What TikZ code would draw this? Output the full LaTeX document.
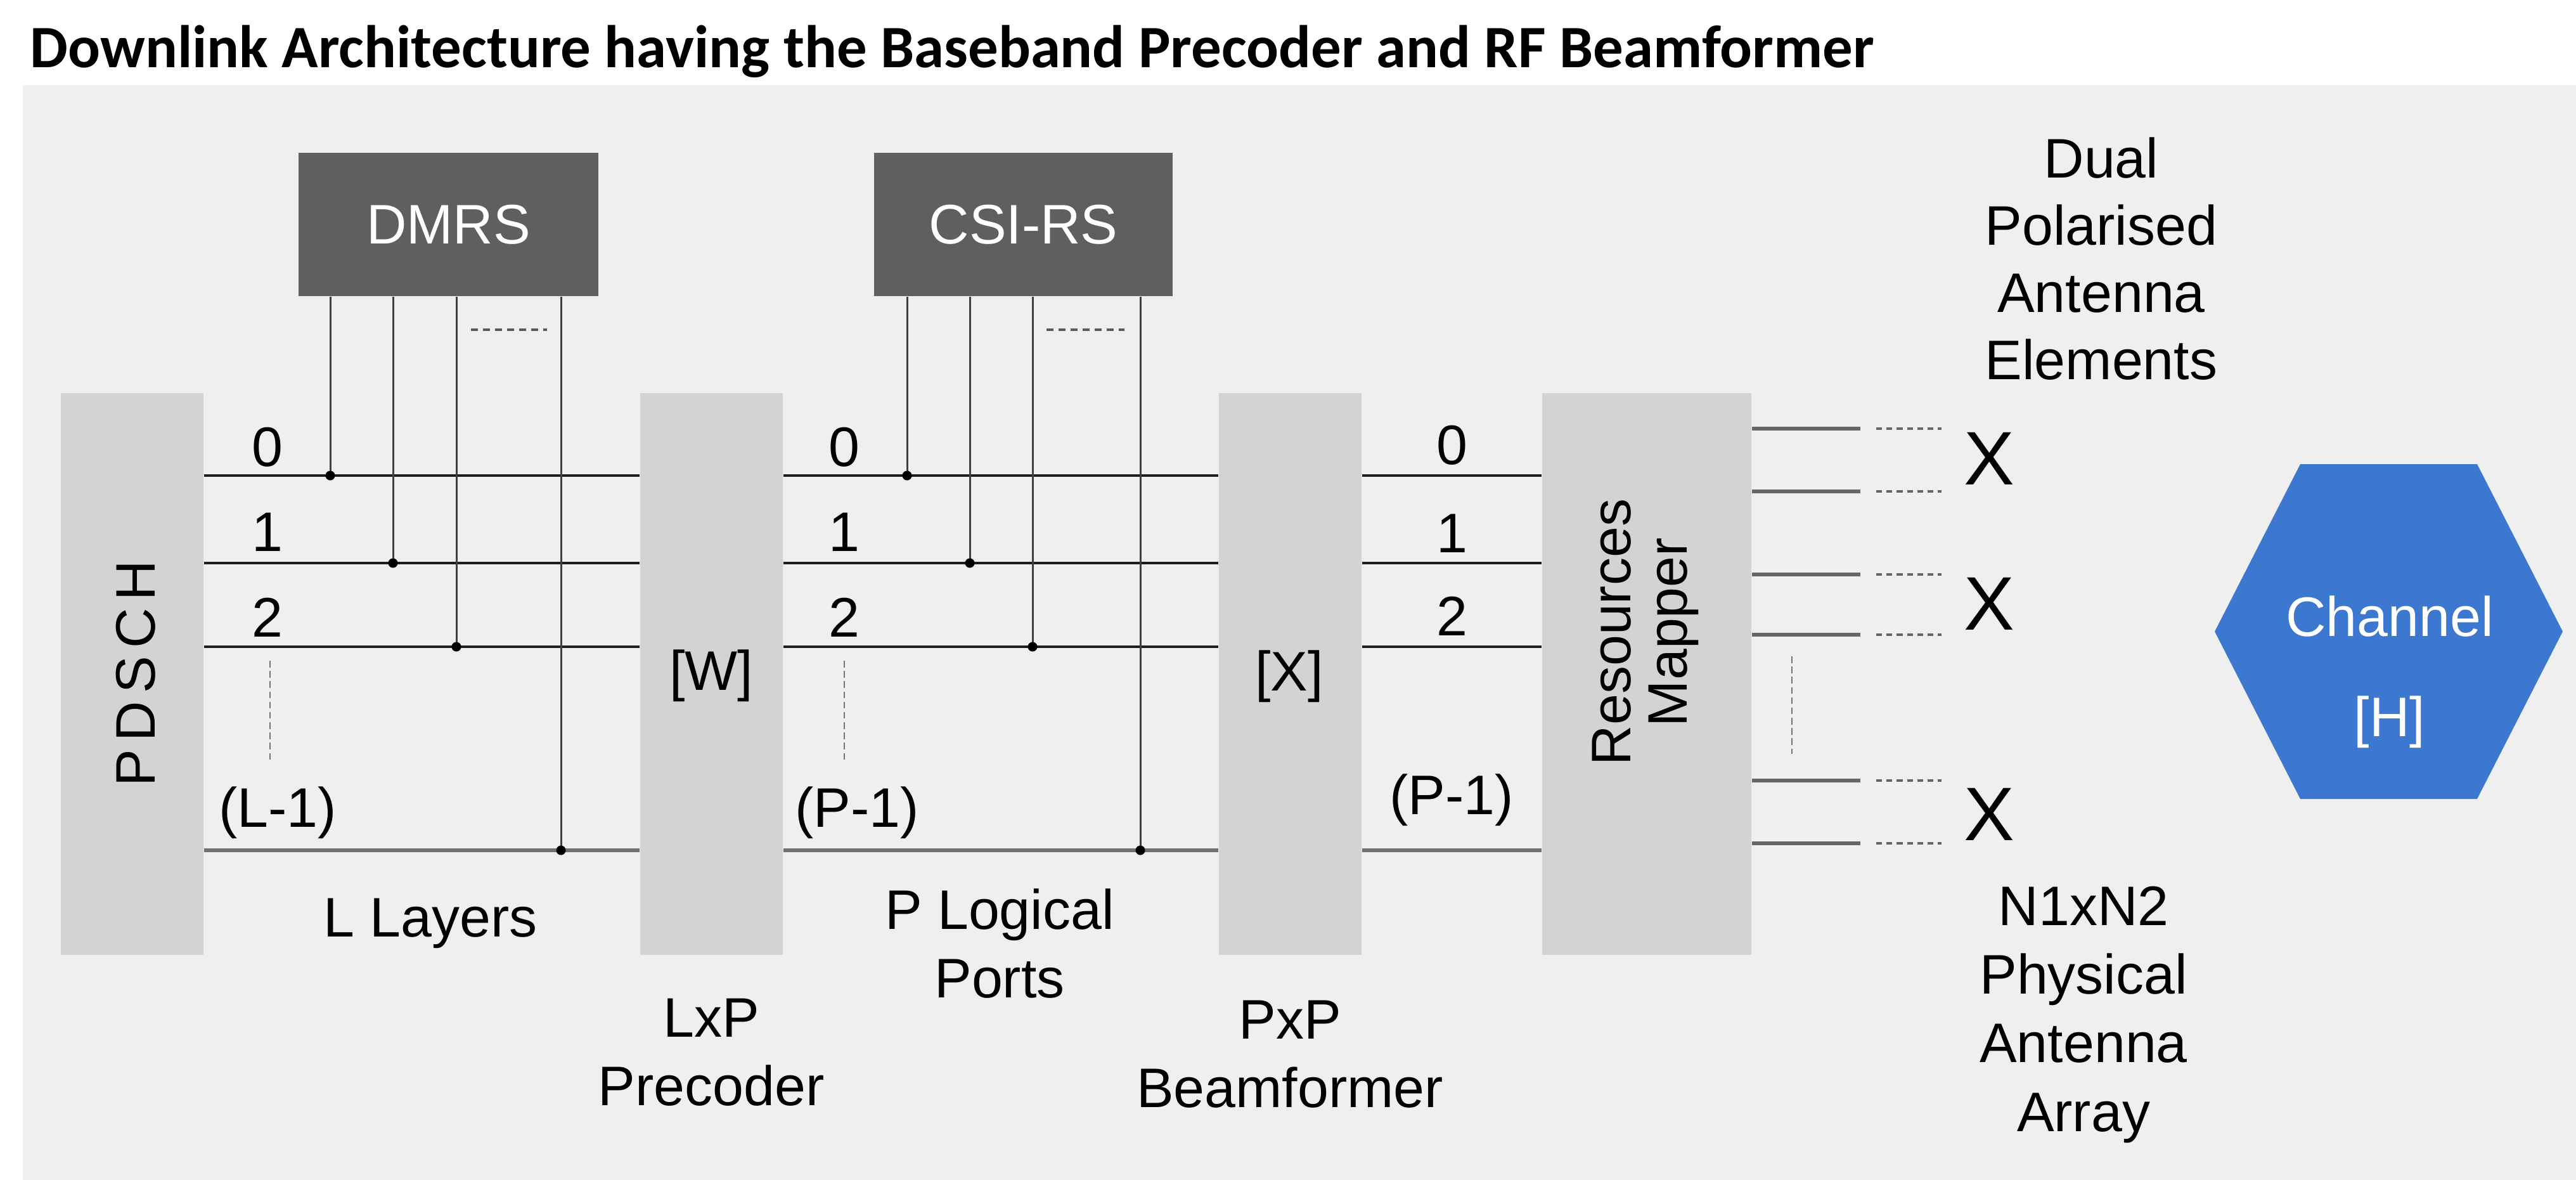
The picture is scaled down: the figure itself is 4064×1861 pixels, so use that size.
\documentclass[tikz,border=0pt]{standalone}
\usepackage{fontspec}
\setmainfont{Liberation Sans}
\newfontfamily\titlefont{Carlito}
\definecolor{bgc}{HTML}{EFEFEF}
\definecolor{blkc}{HTML}{D3D3D3}
\definecolor{rsc}{HTML}{5F5F5F}
\definecolor{chanc}{HTML}{3D78D0}
\definecolor{sigc}{HTML}{1E1E1E}
\definecolor{lastc}{HTML}{707070}
\definecolor{antc}{HTML}{666666}
\begin{document}
\begin{tikzpicture}[x=0.01cm,y=-0.01cm,
  blk/.style={fill=blkc,draw=none,inner sep=0,minimum width=2.25cm,minimum height=8.86cm},
  rsbox/.style={fill=rsc,draw=none,inner sep=0,text=white,minimum height=2.26cm,
    font=\fontsize{25}{30}\selectfont},
  lbl/.style={inner sep=0,align=center,text=black,font=\fontsize{25}{30.7}\selectfont},
  sig/.style={draw=sigc,line width=1.15pt},
  lastsig/.style={draw=lastc,line width=1.7pt},
  vline/.style={draw=sigc!85!white,line width=0.85pt},
  jdot/.style={fill=black},
  hdots/.style={draw=black!65,line width=0.9pt,dash pattern=on 3.2pt off 2.2pt},
  vdots/.style={draw=black!55,line width=0.7pt,dash pattern=on 3pt off 1.6pt},
  ant/.style={draw=antc,line width=1.6pt},
  antdots/.style={draw=antc,line width=1.1pt,dash pattern=on 2.6pt off 2pt},
  xmark/.style={inner sep=0,font=\fontsize{34}{40}\selectfont}
]
\useasboundingbox (0,0) rectangle (4064,1861);
\fill[white] (0,0) rectangle (4064,1861);
\fill[bgc] (36,134) rectangle (4064,1861);

% title
\node[anchor=base west,inner sep=0,font=\titlefont\bfseries\fontsize{27}{30}\selectfont] (title) at (47,107)
  {Downlink Architecture having the Baseband Precoder and RF Beamformer};

% blocks
\node[blk] (pdsch) at (208.5,1063) {};
\node[blk] (W) at (1122.5,1063) {};
\node[blk] (X) at (2035.5,1063) {};
\node[blk,minimum width=3.30cm] (rm) at (2598,1063) {};
\node[rsbox,minimum width=4.73cm] (dmrs) at (707.5,354) {DMRS};
\node[rsbox,minimum width=4.71cm] (csirs) at (1614.5,354) {CSI-RS};

% block texts
\node[lbl,rotate=90,font=\fontsize{25}{30}\selectfont] (pdschtxt) at (214,1062) {P\kern0.14em D\kern0.14em S\kern0.14em C\kern0.14em H};
\node[lbl] (wtxt) at (1122,1066) {[W]};
\node[lbl] (xtxt) at (2034,1067) {[X]};
\node[lbl,rotate=90,font=\fontsize{25}{25.5}\selectfont] (rmtxt) at (2596,997) {Resources\\Mapper};

% junction coordinates
\coordinate (a0) at (521,750);
\coordinate (a1) at (620,888);
\coordinate (a2) at (720,1020);
\coordinate (a3) at (885,1341);
\coordinate (b0) at (1431,750);
\coordinate (b1) at (1530,888);
\coordinate (b2) at (1629,1020);
\coordinate (b3) at (1799,1341);

% horizontal signal lines
\foreach \p in {a0,a1,a2}{
  \draw[sig] (pdsch.east |- \p) -- (W.west |- \p);
  \draw[sig] (W.east |- \p) -- (X.west |- \p);
  \draw[sig] (X.east |- \p) -- (rm.west |- \p);
}
\draw[lastsig] (pdsch.east |- a3) -- (W.west |- a3);
\draw[lastsig] (W.east |- a3) -- (X.west |- a3);
\draw[lastsig] (X.east |- a3) -- (rm.west |- a3);

% reference signal drops
\foreach \p in {a0,a1,a2,a3}{
  \draw[vline] (dmrs.south -| \p) -- (\p);
  \fill[jdot] (\p) circle (0.075cm);
}
\foreach \p in {b0,b1,b2,b3}{
  \draw[vline] (csirs.south -| \p) -- (\p);
  \fill[jdot] (\p) circle (0.075cm);
}
\coordinate (dd1) at (743,520); \coordinate (dd2) at (863,520);
\draw[hdots] (dd1) -- (dd2);
\coordinate (cd1) at (1651,520); \coordinate (cd2) at (1774,520);
\draw[hdots] (cd1) -- (cd2);

% port labels
\node[lbl] (l0) at (422,705) {0};
\node[lbl] (l1) at (422,839) {1};
\node[lbl] (l2) at (422,974) {2};
\node[lbl] (l3) at (438,1282) {(L-1)};
\node[lbl] (p0) at (1332,705) {0};
\node[lbl] (p1) at (1332,839) {1};
\node[lbl] (p2) at (1332,974) {2};
\node[lbl] (p3) at (1352,1282) {(P-1)};
\node[lbl] (q0) at (2291,702) {0};
\node[lbl] (q1) at (2291,841) {1};
\node[lbl] (q2) at (2291,972) {2};
\node[lbl] (q3) at (2290,1262) {(P-1)};
\coordinate (lv1) at (426,1042); \coordinate (lv2) at (426,1199);
\draw[vdots] (lv1) -- (lv2);
\coordinate (pv1) at (1332,1042); \coordinate (pv2) at (1332,1199);
\draw[vdots] (pv1) -- (pv2);

% under-labels
\node[lbl] (llayers) at (679,1456) {L Layers};
\node[lbl] (lxp) at (1122,1660) {LxP\\Precoder};
\node[lbl] (plog) at (1577,1488) {P Logical\\Ports};
\node[lbl] (pxp) at (2035,1663) {PxP\\Beamformer};

% antenna stubs
\foreach \yy/\n in {676/e1,775/e2,906/e3,1001/e4,1231/e5,1330/e6}{
  \coordinate (\n s) at (2935,\yy);
  \coordinate (\n d) at (2960,\yy);
  \coordinate (\n e) at (3063,\yy);
  \draw[ant] (rm.east |- \n s) -- (\n s);
  \draw[antdots] (\n d) -- (\n e);
}
\coordinate (av1) at (2827,1035); \coordinate (av2) at (2827,1189);
\draw[vdots] (av1) -- (av2);
\node[xmark] (x1) at (3138,723) {X};
\node[xmark] (x2) at (3138,952) {X};
\node[xmark] (x3) at (3138,1284) {X};

\node[lbl,font=\fontsize{25}{30.2}\selectfont] (dual) at (3315,408) {Dual\\Polarised\\Antenna\\Elements};
\node[lbl,font=\fontsize{25}{30.8}\selectfont] (n1n2) at (3287,1600) {N1xN2\\Physical\\Antenna\\Array};

% channel hexagon
\fill[chanc] (3629,732) -- (3908,732) -- (4043,996) -- (3908,1260) -- (3629,1260) -- (3494,996) -- cycle;
\node[lbl,text=white,font=\fontsize{25}{45}\selectfont] (chan) at (3770,1060) {Channel\\{}[H]};
\end{tikzpicture}
\end{document}
